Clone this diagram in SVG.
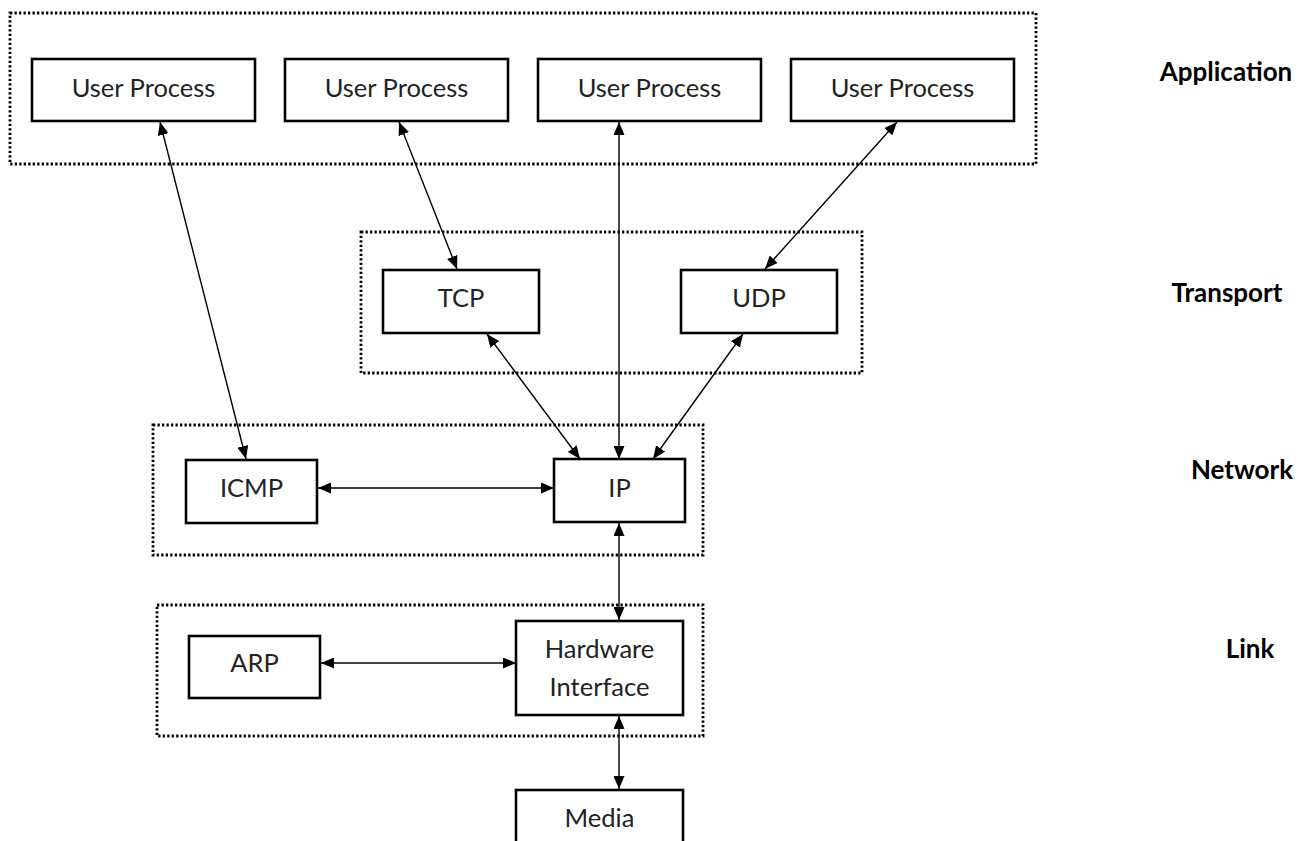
<svg xmlns="http://www.w3.org/2000/svg" width="1310" height="841" viewBox="0 0 1310 841">
<defs>
<marker id="ah" viewBox="0 0 13 11" refX="13" refY="5.5" markerWidth="13" markerHeight="11" markerUnits="userSpaceOnUse" orient="auto-start-reverse">
<path d="M0,0 L13,5.5 L0,11 Z" fill="#000"/>
</marker>
<style>
.layer{fill:none;stroke:#000;stroke-width:2.8;stroke-dasharray:2.3 2.2}
.box{fill:#fff;stroke:#000;stroke-width:2.6}
.t{font-family:Lato,"Liberation Sans",sans-serif;font-size:25.5px;fill:#222;text-anchor:middle}
.lbl{font-family:Lato,"Liberation Sans",sans-serif;font-size:26px;font-weight:bold;fill:#000;text-anchor:middle}
.c{stroke:#000;stroke-width:1.4;fill:none;marker-start:url(#ah);marker-end:url(#ah)}
</style>
</defs>
<rect width="1310" height="841" fill="#fff"/>
<g id="layers">
<rect class="layer" x="10" y="13" width="1026" height="151"/>
<rect class="layer" x="361" y="232" width="501" height="141"/>
<rect class="layer" x="153" y="425" width="550" height="130"/>
<rect class="layer" x="157" y="605" width="546" height="131"/>
</g>
<g id="connectors">
<line class="c" x1="160" y1="122" x2="246" y2="459"/>
<line class="c" x1="399" y1="122" x2="457" y2="269"/>
<line class="c" x1="619" y1="122" x2="619" y2="459"/>
<line class="c" x1="897" y1="122" x2="765" y2="269"/>
<line class="c" x1="487" y1="334" x2="580" y2="459"/>
<line class="c" x1="743" y1="334" x2="653" y2="459"/>
<line class="c" x1="318" y1="488" x2="554" y2="488"/>
<line class="c" x1="619" y1="523" x2="619" y2="620"/>
<line class="c" x1="321" y1="663" x2="516" y2="663"/>
<line class="c" x1="619" y1="716" x2="619" y2="789"/>
</g>
<g id="up1"><rect class="box" x="32" y="59" width="223" height="62"/><text class="t" x="143.5" y="97">User Process</text></g>
<g id="up2"><rect class="box" x="285" y="59" width="223" height="62"/><text class="t" x="396.5" y="97">User Process</text></g>
<g id="up3"><rect class="box" x="538" y="59" width="223" height="62"/><text class="t" x="649.5" y="97">User Process</text></g>
<g id="up4"><rect class="box" x="791" y="59" width="223" height="62"/><text class="t" x="902.5" y="97">User Process</text></g>
<g id="tcp"><rect class="box" x="383" y="270" width="156" height="63"/><text class="t" x="461" y="307">TCP</text></g>
<g id="udp"><rect class="box" x="681" y="270" width="156" height="63"/><text class="t" x="759" y="307">UDP</text></g>
<g id="icmp"><rect class="box" x="186" y="460" width="131" height="63"/><text class="t" x="251.5" y="497">ICMP</text></g>
<g id="ip"><rect class="box" x="554" y="459" width="131" height="63"/><text class="t" x="619.5" y="497">IP</text></g>
<g id="arp"><rect class="box" x="189" y="636" width="131" height="62"/><text class="t" x="254.5" y="672">ARP</text></g>
<g id="hw"><rect class="box" x="516" y="621" width="167" height="94"/><text class="t" x="599.5" y="658">Hardware</text><text class="t" x="599.5" y="696">Interface</text></g>
<g id="media"><rect class="box" x="516" y="790" width="167" height="60"/><text class="t" x="599.5" y="827">Media</text></g>
<g id="labels">
<text class="lbl" x="1226" y="81">Application</text>
<text class="lbl" x="1227" y="302">Transport</text>
<text class="lbl" x="1242" y="479">Network</text>
<text class="lbl" x="1250" y="658">Link</text>
</g>
</svg>
